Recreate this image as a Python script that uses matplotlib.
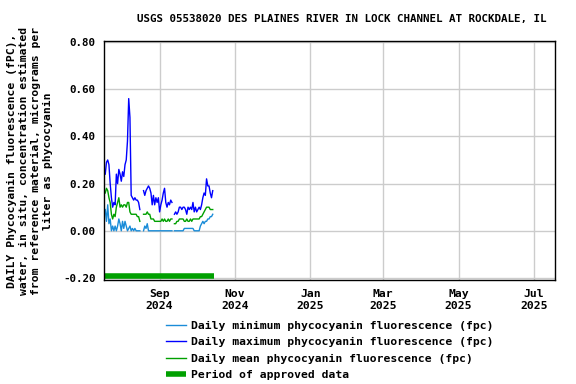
import numpy as np
import pandas as pd
import matplotlib
matplotlib.use("Agg")
import matplotlib.pyplot as plt

nan = np.nan
start_date = "2024-07-19"
daily_max = [0.24, 0.29, 0.30, 0.28, 0.20, 0.14, 0.10, 0.12, 0.11, 0.24,
             0.20, 0.26, 0.24, 0.21, 0.25, 0.23, 0.28, 0.30, 0.38, 0.56,
             0.48, 0.15, 0.14, 0.13, 0.14, 0.13, 0.13, 0.12, 0.09, nan,
             nan, 0.17, 0.15, 0.17, 0.18, 0.19, 0.18, 0.16, 0.11, 0.15,
             0.11, 0.14, 0.12, 0.14, 0.08, 0.11, 0.13, 0.16, 0.18, 0.12,
             0.10, 0.12, 0.11, 0.13, 0.12, nan, 0.07, 0.08, 0.07, 0.08,
             0.10, 0.10, 0.09, 0.10, 0.10, 0.09, 0.07, 0.10, 0.09, 0.10,
             0.09, 0.12, 0.08, 0.10, 0.08, 0.09, 0.10, 0.09, 0.11, 0.14,
             0.16, 0.15, 0.22, 0.19, 0.19, 0.16, 0.14, 0.17]
daily_mean = [0.16, 0.18, 0.17, 0.14, 0.12, 0.07, 0.05, 0.07, 0.06, 0.10,
              0.12, 0.14, 0.10, 0.11, 0.10, 0.11, 0.11, 0.10, 0.12, 0.12,
              0.08, 0.07, 0.07, 0.07, 0.07, 0.07, 0.06, 0.06, 0.04, nan,
              nan, 0.07, 0.07, 0.07, 0.08, 0.07, 0.07, 0.05, 0.05, 0.05,
              0.04, 0.04, 0.04, 0.04, 0.04, 0.04, 0.05, 0.04, 0.05, 0.04,
              0.04, 0.05, 0.04, 0.05, 0.05, nan, 0.03, 0.03, 0.04, 0.04,
              0.05, 0.05, 0.05, 0.05, 0.04, 0.04, 0.05, 0.04, 0.04, 0.05,
              0.04, 0.05, 0.05, 0.05, 0.05, 0.05, 0.05, 0.06, 0.06, 0.07,
              0.08, 0.09, 0.10, 0.10, 0.10, 0.09, 0.09, 0.09]
daily_min = [0.09, 0.04, 0.11, 0.03, 0.05, 0.00, 0.02, 0.00, 0.02, 0.00,
             0.02, 0.05, 0.03, 0.00, 0.04, 0.01, 0.04, 0.02, 0.00, 0.01,
             0.02, 0.00, 0.01, 0.00, 0.01, 0.00, 0.00, 0.00, 0.00, nan,
             nan, 0.00, 0.02, 0.01, 0.03, 0.00, 0.00, 0.00, 0.00, 0.00,
             0.00, 0.00, 0.00, 0.00, 0.00, 0.00, 0.00, 0.00, 0.00, 0.00,
             0.00, 0.00, 0.00, 0.00, 0.00, nan, 0.00, 0.00, 0.00, 0.00,
             0.00, 0.00, 0.00, 0.00, 0.01, 0.01, 0.01, 0.01, 0.01, 0.01,
             0.01, 0.01, 0.00, 0.00, 0.00, 0.00, 0.00, 0.02, 0.03, 0.04,
             0.03, 0.04, 0.04, 0.05, 0.05, 0.06, 0.06, 0.07]
approved_period = ["2024-07-18", "2024-10-15"]
approved_level = -0.19
x_range = ["2024-07-18", "2025-07-18"]
tick_dates = ["2024-09-01", "2024-11-01", "2025-01-01", "2025-03-01", "2025-05-01", "2025-07-01"]
tick_labels = ["Sep\n2024", "Nov\n2024", "Jan\n2025", "Mar\n2025", "May\n2025", "Jul\n2025"]
y_ticks = [-0.20, 0.00, 0.20, 0.40, 0.60, 0.80]

title = "USGS 05538020 DES PLAINES RIVER IN LOCK CHANNEL AT ROCKDALE, IL"
ylabel = ("DAILY Phycocyanin fluorescence (fPC),\n"
          "water, in situ, concentration estimated\n"
          "from reference material, micrograms per\n"
          "liter as phycocyanin")

dates = pd.date_range(start_date, periods=len(daily_max), freq="D")

plt.rcParams['font.family'] = ['DejaVu Sans Mono']
plt.rcParams['font.weight'] = 'bold'
fs = 8.2

fig = plt.figure(figsize=(5.76, 3.84), dpi=100)
ax = fig.add_axes([104/576, 1-280/384, (555-104)/576, (280-41)/384])

ax.plot(dates, daily_min, color='#1a8cd8', lw=1, label='Daily minimum phycocyanin fluorescence (fpc)')
ax.plot(dates, daily_max, color='#0000ff', lw=1, label='Daily maximum phycocyanin fluorescence (fpc)')
ax.plot(dates, daily_mean, color='#00a000', lw=1, label='Daily mean phycocyanin fluorescence (fpc)')
ax.plot(pd.to_datetime(approved_period), [approved_level, approved_level], color='#00a000',
        lw=4, solid_capstyle='butt', label='Period of approved data')

ax.set_xlim(pd.to_datetime(x_range[0]), pd.to_datetime(x_range[1]))
ax.set_ylim(-0.2085, 0.804)
ax.set_yticks(y_ticks)
ax.set_yticklabels([f"{v:.2f}" for v in y_ticks], fontsize=7.8, fontweight='bold')
ax.set_xticks(pd.to_datetime(tick_dates))
ax.set_xticklabels(tick_labels, fontsize=fs, fontweight='bold', linespacing=1.3)
ax.tick_params(axis='both', length=0)
ax.tick_params(axis='x', pad=6.5)
ax.tick_params(axis='y', pad=6)
ax.grid(True, color='#cccccc', lw=1)
ax.set_axisbelow(True)
for s in ax.spines.values():
    s.set_color('black')
    s.set_linewidth(1)

fig.text(342/576, 1-19/384, title, ha='center', va='center', fontsize=7.8, fontweight='bold')
fig.text(30/576, 1-161/384, ylabel, rotation=90, ha='center', va='center',
         fontsize=fs, fontweight='bold', linespacing=1.24, multialignment='center')

handles, labels = ax.get_legend_handles_labels()
fig.legend(handles, labels, loc='upper left', bbox_to_anchor=(160/576, 1-315/384),
           frameon=False, handlelength=1.75, handletextpad=0.5,
           labelspacing=0.56, borderpad=0, prop={'weight': 'bold', 'size': fs})

fig.savefig("out.png", dpi=100)
